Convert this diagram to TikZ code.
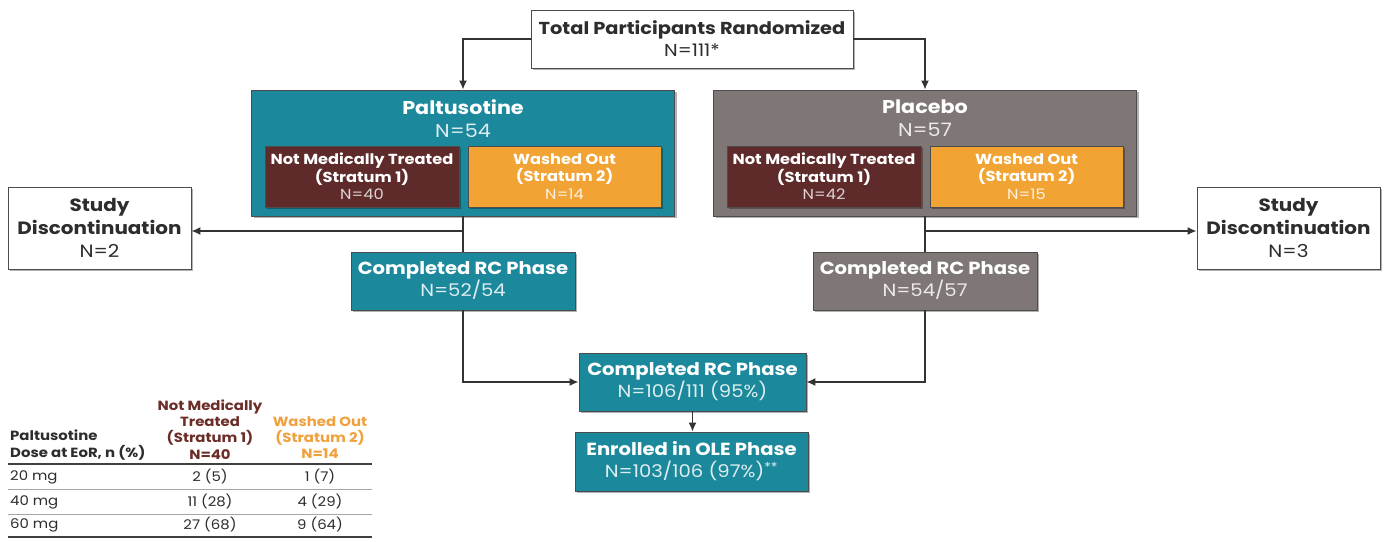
\documentclass[tikz,border=0pt]{standalone}
\usepackage{fontspec}
\setmainfont{Poppins}[FakeStretch=1.12]
\usetikzlibrary{arrows.meta,shadows}

\definecolor{paltteal}{RGB}{27,137,155}
\definecolor{placgray}{RGB}{127,119,117}
\definecolor{stratmaroon}{RGB}{94,42,42}
\definecolor{stratorange}{RGB}{241,163,52}
\definecolor{boxtext}{RGB}{45,45,45}
\definecolor{headmaroon}{RGB}{107,45,40}
\definecolor{headorange}{RGB}{240,160,60}

\newcommand{\fsz}[2]{\fontsize{#1}{#2}\selectfont}

\begin{document}
\begin{tikzpicture}[x=1pt,y=-1pt,
  box_base/.style={draw=black!70,line width=0.8pt,inner sep=0pt,align=center,
    drop shadow={shadow xshift=2pt,shadow yshift=-2pt,opacity=0.3,fill=black}},
  white_box/.style={box_base,fill=white,text=boxtext},
  teal_box/.style={box_base,fill=paltteal,text=white},
  gray_box/.style={box_base,fill=placgray,text=white},
  maroon_box/.style={box_base,fill=stratmaroon,text=white,minimum width=194pt,minimum height=61pt,font=\fsz{14.5}{17.5}},
  orange_box/.style={box_base,fill=stratorange,text=white,minimum width=193pt,minimum height=61pt,font=\fsz{14.5}{17.5}},
  big_box/.style={minimum width=423pt,minimum height=126pt},
  done_box/.style={minimum width=224pt,minimum height=58pt,font=\fsz{17.5}{22}},
  disc_box/.style={white_box,minimum width=183pt,minimum height=82pt,font=\fsz{17.8}{23}},
  head_text/.style={inner sep=0pt,align=center,text=white,font=\fsz{18.5}{23}},
  tab_text/.style={inner sep=0pt,text=boxtext,font=\fsz{13.3}{16.3}},
  flow_line/.style={draw=black!80,line width=1.6pt},
  flow_arrow/.style={flow_line,-{Latex[length=9pt,width=8pt]}}]

\useasboundingbox[fill=white] (0,0) rectangle (1388,541);

% top
\node[white_box,minimum width=322pt,minimum height=58pt,font=\fsz{17.3}{22}] (total) at (692,39)
  {\textbf{Total Participants Randomized}\\N=111*};

% paltusotine arm
\node[teal_box,big_box] (palt) at (463,153) {};
\node[head_text] (palt_title) at (463,118.5) {\textbf{Paltusotine}\\\color{white!85!paltteal}N=54};
\node[maroon_box] (palt_s1) at (362,176.5)
  {\textbf{Not Medically Treated}\\\textbf{(Stratum 1)}\\\color{white!80!stratmaroon}N=40};
\node[orange_box] (palt_s2) at (564.5,176.5)
  {\textbf{Washed Out}\\\textbf{(Stratum 2)}\\\color{white!85!stratorange}N=14};

% placebo arm
\node[gray_box,big_box] (plac) at (925,153) {};
\node[head_text] (plac_title) at (925,118.5) {\textbf{Placebo}\\\color{white!85!placgray}N=57};
\node[maroon_box] (plac_s1) at (824,176.5)
  {\textbf{Not Medically Treated}\\\textbf{(Stratum 1)}\\\color{white!80!stratmaroon}N=42};
\node[orange_box] (plac_s2) at (1026.5,176.5)
  {\textbf{Washed Out}\\\textbf{(Stratum 2)}\\\color{white!85!stratorange}N=15};

% discontinuations
\node[disc_box] (disc_left) at (99.5,228) {\textbf{Study}\\\textbf{Discontinuation}\\N=2};
\node[disc_box] (disc_right) at (1288.5,228) {\textbf{Study}\\\textbf{Discontinuation}\\N=3};

% completed
\node[teal_box,done_box] (palt_done) at (463,281)
  {\textbf{Completed RC Phase}\\\color{white!85!paltteal}N=52/54};
\node[gray_box,done_box] (plac_done) at (925,281)
  {\textbf{Completed RC Phase}\\\color{white!85!placgray}N=54/57};
\node[teal_box,done_box,minimum width=227pt] (rc_all) at (692.5,382)
  {\textbf{Completed RC Phase}\\\color{white!85!paltteal}N=106/111 (95\%)};
\node[teal_box,done_box,minimum width=233pt,minimum height=59pt] (ole) at (691.5,461.5)
  {\textbf{Enrolled in OLE Phase}\\\color{white!85!paltteal}N=103/106 (97\%)\textsuperscript{**}};

\coordinate (palt_split) at (463,231);
\coordinate (plac_split) at (925,231);

\draw[flow_arrow] (total.west) -| (palt.north);
\draw[flow_arrow] (total.east) -| (plac.north);
\draw[flow_line] (palt.south) -- (palt_done.north);
\draw[flow_line] (plac.south) -- (plac_done.north);
\draw[flow_arrow] (palt_split) -- (disc_left.east |- palt_split);
\draw[flow_arrow] (plac_split) -- (disc_right.west |- plac_split);
\draw[flow_arrow] (palt_done.south) |- (rc_all.west);
\draw[flow_arrow] (plac_done.south) |- (rc_all.east);
\draw[flow_arrow] (rc_all.south) -- (rc_all.south |- ole.north);

% dose table
\node[tab_text,anchor=west,align=left,font=\bfseries\fsz{13.3}{17}] (tab_h1) at (10,445.5)
  {Paltusotine\\Dose at EoR, n (\%)};
\node[tab_text,align=center,text=headmaroon,font=\bfseries\fsz{13.3}{16.3}] (tab_h2) at (210,429.5)
  {Not Medically\\Treated\\(Stratum 1)\\N=40};
\node[tab_text,align=center,text=headorange,font=\bfseries\fsz{13.3}{16.3}] (tab_h3) at (320,437.5)
  {Washed Out\\(Stratum 2)\\N=14};
\draw[line width=1.5pt,black!75] (8,464) -- (372,464);
\node[tab_text,anchor=west] (r20) at (10,477) {20 mg};
\node[tab_text] (r20a) at (210,477) {2 (5)};
\node[tab_text] (r20b) at (320,477) {1 (7)};
\draw[line width=0.6pt,black!35] (8,489) -- (372,489);
\node[tab_text,anchor=west] (r40) at (10,502) {40 mg};
\node[tab_text] (r40a) at (210,502) {11 (28)};
\node[tab_text] (r40b) at (320,502) {4 (29)};
\draw[line width=0.6pt,black!35] (8,514) -- (372,514);
\node[tab_text,anchor=west] (r60) at (10,525) {60 mg};
\node[tab_text] (r60a) at (210,525) {27 (68)};
\node[tab_text] (r60b) at (320,525) {9 (64)};
\draw[line width=1.5pt,black!75] (8,537) -- (372,537);

\end{tikzpicture}
\end{document}
